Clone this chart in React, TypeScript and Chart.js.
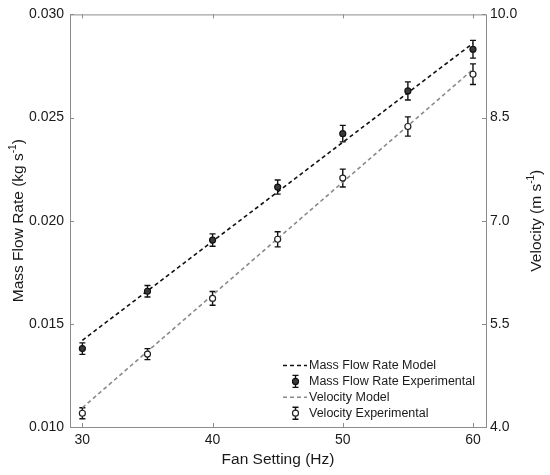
import React, { useEffect, useRef } from "react";
import { Chart, registerables } from "chart.js";

Chart.register(...registerables);

// ---- data ----
const fanSetting = [30, 35, 40, 45, 50, 55, 60];
const massFlowModel = [0.0142, 0.0166, 0.019, 0.0214, 0.0238, 0.0262, 0.0286];
const massFlowExp = [0.0138, 0.01658, 0.01906, 0.02163, 0.02422, 0.02629, 0.02831];
const massFlowErr = [0.00028, 0.00028, 0.0003, 0.00034, 0.0004, 0.00044, 0.00043];
const velocityModel = [4.28, 5.1, 5.92, 6.74, 7.56, 8.38, 9.2];
const velocityExp = [4.2, 5.06, 5.87, 6.73, 7.62, 8.37, 9.13];
const velocityErr = [0.08, 0.08, 0.1, 0.11, 0.13, 0.14, 0.15];

const xTicks = [30, 40, 50, 60];
const massTicks = [0.01, 0.015, 0.02, 0.025, 0.03];
const velocityTicks = [4.0, 5.5, 7.0, 8.5, 10.0];

const seriesLabels = [
  "Mass Flow Rate Model",
  "Mass Flow Rate Experimental",
  "Velocity Model",
  "Velocity Experimental",
];
const xTitle = "Fan Setting (Hz)";
const leftTitle = ["Mass Flow Rate (kg s", "-1", ")"];
const rightTitle = ["Velocity (m s", "-1", ")"];

const FONT = "Arial, 'Liberation Sans', sans-serif";
const TEXT = "#1a1a1a";
const FRAME = "#8c8c8c";
const GRAY_LINE = "#8a8a8a";

const toXY = (ys: number[]) => fanSetting.map((x, i) => ({ x, y: ys[i] }));

function drawSupTitle(ctx: CanvasRenderingContext2D, parts: string[], size: number) {
  const main = `${size}px ${FONT}`;
  const sup = `${Math.round(size * 0.65)}px ${FONT}`;
  ctx.font = main;
  const w1 = ctx.measureText(parts[0]).width;
  const w3 = ctx.measureText(parts[2]).width;
  ctx.font = sup;
  const w2 = ctx.measureText(parts[1]).width;
  let x = -(w1 + w2 + w3) / 2;
  ctx.textAlign = "left";
  ctx.textBaseline = "middle";
  ctx.font = main;
  ctx.fillText(parts[0], x, 0);
  x += w1;
  ctx.font = sup;
  ctx.fillText(parts[1], x, -size * 0.38);
  x += w2;
  ctx.font = main;
  ctx.fillText(parts[2], x, 0);
}

const framePlugin = {
  id: "frame",
  beforeDatasetsDraw(chart: any) {
    const { ctx, chartArea: a, scales } = chart;
    ctx.save();
    ctx.strokeStyle = FRAME;
    ctx.lineWidth = 1;
    ctx.strokeRect(a.left + 0.5, a.top + 0.5, a.right - a.left, a.bottom - a.top);
    const len = 4;
    ctx.beginPath();
    scales.x.ticks.forEach((t: any) => {
      const px = Math.round(scales.x.getPixelForValue(t.value)) + 0.5;
      ctx.moveTo(px, a.bottom);
      ctx.lineTo(px, a.bottom - len);
      ctx.moveTo(px, a.top);
      ctx.lineTo(px, a.top + len);
    });
    scales.y.ticks.forEach((t: any) => {
      const py = Math.round(scales.y.getPixelForValue(t.value)) + 0.5;
      ctx.moveTo(a.left, py);
      ctx.lineTo(a.left + len, py);
    });
    scales.y1.ticks.forEach((t: any) => {
      const py = Math.round(scales.y1.getPixelForValue(t.value)) + 0.5;
      ctx.moveTo(a.right, py);
      ctx.lineTo(a.right - len, py);
    });
    ctx.stroke();
    ctx.restore();
  },
};

function drawErrorBar(ctx: CanvasRenderingContext2D, x: number, yTop: number, yBot: number) {
  const cap = 3;
  ctx.beginPath();
  ctx.moveTo(x, yTop);
  ctx.lineTo(x, yBot);
  ctx.moveTo(x - cap, yTop);
  ctx.lineTo(x + cap, yTop);
  ctx.moveTo(x - cap, yBot);
  ctx.lineTo(x + cap, yBot);
  ctx.stroke();
}

const errorBarPlugin = {
  id: "errorBars",
  beforeDatasetsDraw(chart: any) {
    const { ctx, scales } = chart;
    ctx.save();
    ctx.strokeStyle = "#111";
    ctx.lineWidth = 1.4;
    chart.data.datasets.forEach((ds: any) => {
      if (!ds.errors) return;
      const ys = scales[ds.yAxisID];
      ds.data.forEach((pt: any, j: number) => {
        const x = scales.x.getPixelForValue(pt.x);
        drawErrorBar(
          ctx,
          x,
          ys.getPixelForValue(pt.y + ds.errors[j]),
          ys.getPixelForValue(pt.y - ds.errors[j])
        );
      });
    });
    ctx.restore();
  },
};

const titlesLegendPlugin = {
  id: "titlesLegend",
  afterDraw(chart: any) {
    const { ctx, chartArea: a } = chart;
    const cy = (a.top + a.bottom) / 2;
    ctx.save();
    ctx.fillStyle = TEXT;
    // x title
    ctx.font = `15.5px ${FONT}`;
    ctx.textAlign = "center";
    ctx.textBaseline = "middle";
    ctx.fillText(xTitle, (a.left + a.right) / 2, a.bottom + 33);
    // left title
    ctx.save();
    ctx.translate(19, cy);
    ctx.rotate(-Math.PI / 2);
    drawSupTitle(ctx, leftTitle, 15.5);
    ctx.restore();
    // right title
    ctx.save();
    ctx.translate(537, cy);
    ctx.rotate(-Math.PI / 2);
    drawSupTitle(ctx, rightTitle, 15.5);
    ctx.restore();

    // legend
    const textX = a.right - 177;
    const rowY0 = a.bottom - 61.5;
    const rowH = 15.9;
    const symX = textX - 13.5;
    chart.data.datasets.forEach((ds: any, i: number) => {
      const y = rowY0 + i * rowH;
      if (ds.errors) {
        ctx.strokeStyle = "#111";
        ctx.lineWidth = 1.4;
        drawErrorBar(ctx, symX, y - 6, y + 6);
        ctx.beginPath();
        ctx.arc(symX, y, 3, 0, Math.PI * 2);
        ctx.fillStyle = ds.backgroundColor;
        ctx.fill();
        ctx.strokeStyle = ds.borderColor;
        ctx.lineWidth = 1.2;
        ctx.stroke();
      } else {
        ctx.strokeStyle = ds.borderColor;
        ctx.lineWidth = 1.5;
        ctx.setLineDash(ds.borderDash);
        ctx.beginPath();
        ctx.moveTo(textX - 26, y);
        ctx.lineTo(textX - 2, y);
        ctx.stroke();
        ctx.setLineDash([]);
      }
      ctx.fillStyle = TEXT;
      ctx.font = `12.5px ${FONT}`;
      ctx.textAlign = "left";
      ctx.textBaseline = "middle";
      ctx.fillText(ds.label, textX, y);
    });
    ctx.restore();
  },
};

export default function App() {
  const canvasRef = useRef<HTMLCanvasElement | null>(null);

  useEffect(() => {
    if (!canvasRef.current) return;
    const fixedTicks = (vals: number[]) => (scale: any) => {
      scale.ticks = vals.map((v) => ({ value: v }));
    };
    const chart = new Chart(canvasRef.current, {
      type: "line",
      data: {
        datasets: [
          {
            label: seriesLabels[0],
            data: toXY(massFlowModel),
            yAxisID: "y",
            borderColor: "#111111",
            borderWidth: 1.6,
            borderDash: [4, 3],
            pointRadius: 0,
            fill: false,
            order: 2,
          },
          {
            label: seriesLabels[1],
            data: toXY(massFlowExp),
            yAxisID: "y",
            showLine: false,
            pointRadius: 3,
            pointBorderWidth: 1.2,
            backgroundColor: "#3a3a3a",
            borderColor: "#111111",
            errors: massFlowErr,
            order: 0,
          } as any,
          {
            label: seriesLabels[2],
            data: toXY(velocityModel),
            yAxisID: "y1",
            borderColor: GRAY_LINE,
            borderWidth: 1.6,
            borderDash: [4, 3],
            pointRadius: 0,
            fill: false,
            order: 2,
          },
          {
            label: seriesLabels[3],
            data: toXY(velocityExp),
            yAxisID: "y1",
            showLine: false,
            pointRadius: 3,
            pointBorderWidth: 1.2,
            backgroundColor: "#ffffff",
            borderColor: "#222222",
            errors: velocityErr,
            order: 0,
          } as any,
        ],
      },
      options: {
        animation: false,
        responsive: true,
        maintainAspectRatio: false,
        layout: { padding: { top: 12, left: 0, right: 0, bottom: 0 } },
        plugins: {
          legend: { display: false },
          tooltip: { enabled: false },
        },
        scales: {
          x: {
            type: "linear",
            position: "bottom",
            min: 29.05,
            max: 61,
            afterBuildTicks: fixedTicks(xTicks),
            afterFit: (s: any) => {
              s.height = 48;
            },
            grid: { display: false, drawTicks: false },
            border: { display: false },
            ticks: {
              padding: 5,
              color: TEXT,
              font: { family: FONT, size: 14 },
              callback: (v: any) => String(v),
            },
          },
          y: {
            type: "linear",
            position: "left",
            min: 0.01,
            max: 0.03,
            afterBuildTicks: fixedTicks(massTicks),
            afterFit: (s: any) => {
              s.width = 70;
            },
            grid: { display: false, drawTicks: false },
            border: { display: false },
            ticks: {
              padding: 6,
              color: TEXT,
              font: { family: FONT, size: 14 },
              callback: (v: any) => Number(v).toFixed(3),
            },
          },
          y1: {
            type: "linear",
            position: "right",
            min: 4,
            max: 10,
            afterBuildTicks: fixedTicks(velocityTicks),
            afterFit: (s: any) => {
              s.width = 64;
            },
            grid: { display: false, drawTicks: false },
            border: { display: false },
            ticks: {
              padding: 4,
              color: TEXT,
              font: { family: FONT, size: 14 },
              callback: (v: any) => Number(v).toFixed(1),
            },
          },
        },
      },
      plugins: [framePlugin, errorBarPlugin, titlesLegendPlugin],
    } as any);
    return () => chart.destroy();
  }, []);

  return (
    <div style={{ position: "absolute", left: 0, top: 0, width: 550, height: 475, background: "#fff" }}>
      <canvas ref={canvasRef} />
    </div>
  );
}
